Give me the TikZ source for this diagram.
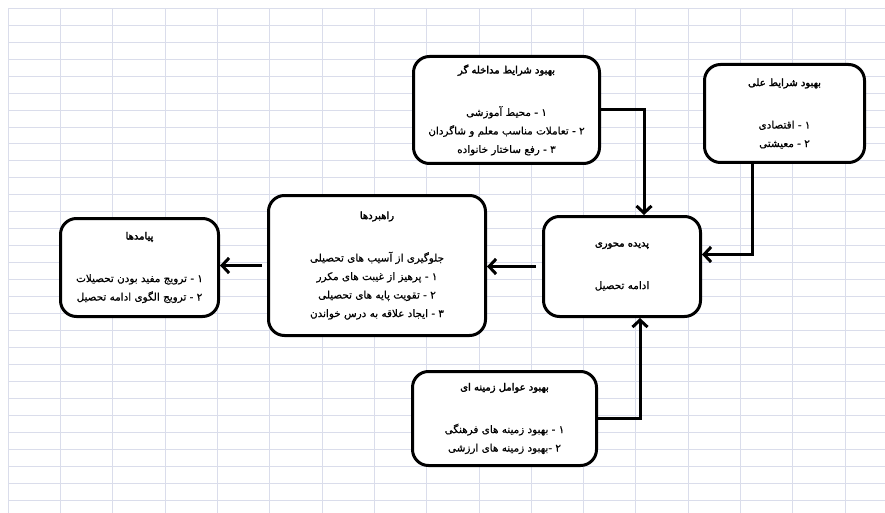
\documentclass[tikz,border=0pt]{standalone}
\usepackage{fontspec}
\newfontfamily\arabicfont[Script=Arabic, FakeBold=0.6]{DejaVu Sans}
\newfontfamily\arabictitle[Script=Arabic, FakeBold=2.5]{DejaVu Sans}
\TeXXeTstate=1
\usetikzlibrary{arrows.meta, positioning}
\definecolor{gridblue}{RGB}{218,221,235}
\newcommand{\fa}[1]{\beginR #1\endR}
\newcommand{\fatitle}[1]{{\arabictitle\fontsize{10}{18}\selectfont\beginR #1\endR}}

\begin{document}
\begin{tikzpicture}[x=1pt, y=-1pt,
    box/.style={rectangle, rounded corners=16pt, draw=black, line width=3pt, fill=white, align=center, inner sep=0pt, font=\arabicfont\fontsize{10.4}{18.5}\selectfont},
    flow/.style={-{Straight Barb[length=7pt,width=15pt]}, line width=3pt},
    gridline/.style={draw=gridblue, line width=1pt}]
    \fill[white] (0,0) rectangle (885,513);
    \useasboundingbox (0,0) rectangle (885,513);

    % Sheet grid
    \foreach \i in {0,...,16}
        \draw[gridline] (8.3+52.3*\i,8.3) -- (8.3+52.3*\i,513);
    \foreach \j in {0,...,29}
        \draw[gridline] (8.3,8.3+16.96*\j) -- (885,8.3+16.96*\j);

    % Nodes
    \node (mudakhele) [box, minimum width=186pt, minimum height=107pt] at (506.5,110)
        {\fatitle{بهبود شرایط مداخله گر}\\[24pt]
         \fa{۱ - محیط آموزشی}\\
         \fa{۲ - تعاملات مناسب معلم و شاگردان}\\
         \fa{۳ - رفع ساختار خانواده}};
    \node (ali) [box, minimum width=160pt, minimum height=98pt] at (784.5,113.5)
        {\fatitle{بهبود شرایط علی}\\[24pt]
         \fa{۱ - اقتصادی}\\
         \fa{۲ - معیشتی}};
    \node (mehvari) [box, minimum width=157pt, minimum height=100pt] at (622,266.5)
        {\fatitle{پدیده محوری}\\[24pt]
         \fa{ادامه تحصیل}};
    \node (rahbord) [box, minimum width=217pt, minimum height=140pt] at (377,265.5)
        {\fatitle{راهبردها}\\[24pt]
         \fa{جلوگیری از آسیب های تحصیلی}\\
         \fa{۱ - پرهیز از غیبت های مکرر}\\
         \fa{۲ - تقویت پایه های تحصیلی}\\
         \fa{۳ - ایجاد علاقه به درس خواندن}};
    \node (payamad) [box, minimum width=158pt, minimum height=98pt] at (139.5,267.5)
        {\fatitle{پیامدها}\\[24pt]
         \fa{۱ - ترویج مفید بودن تحصیلات}\\
         \fa{۲ - ترویج الگوی ادامه تحصیل}};
    \node (zamine) [box, minimum width=184pt, minimum height=94pt] at (504.5,418.5)
        {\fatitle{بهبود عوامل زمینه ای}\\[24pt]
         \fa{۱ - بهبود زمینه های فرهنگی}\\
         \fa{۲ -بهبود زمینه های ارزشی}};

    % Arrows
    \draw[flow] (mudakhele.east) -| ([xshift=22pt]mehvari.north);
    \draw[flow] ([xshift=-32pt]ali.south) |- ([yshift=12pt]mehvari.east);
    \draw[flow] (zamine.east) -| ([xshift=18pt]mehvari.south);
    \draw[flow, shorten <=6pt] (mehvari.west) -- (rahbord.east |- mehvari.west);
    \draw[flow, shorten <=5pt] (rahbord.west) -- (payamad.east |- rahbord.west);
\end{tikzpicture}
\end{document}
